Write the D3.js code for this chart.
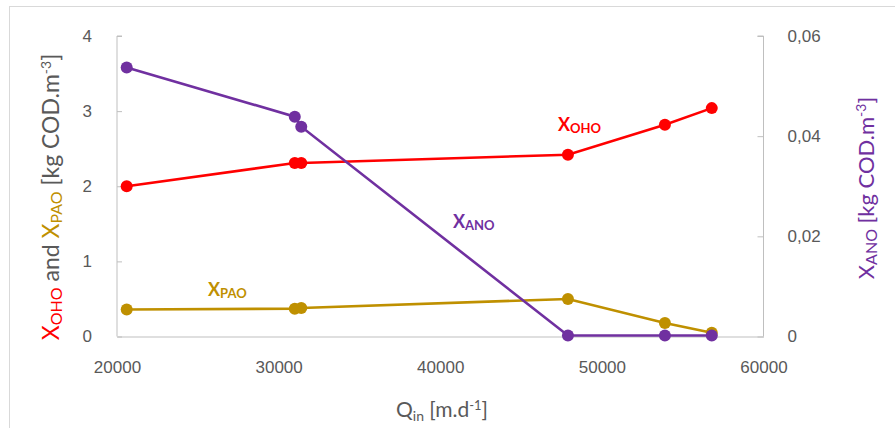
<!DOCTYPE html>
<html><head><meta charset="utf-8">
<script src="https://cdn.jsdelivr.net/npm/d3@7/dist/d3.min.js"></script>
<style>body{margin:0;background:#fff;}svg{display:block;font-family:Lato,"Open Sans",sans-serif;}</style>
</head><body><svg id="c" width="895" height="428"></svg>
<script>
const qIn = [20600, 31000, 31400, 47900, 53900, 56800];
const xOHO = [2.0, 2.31, 2.31, 2.42, 2.82, 3.04];
const xPAO = [0.36, 0.37, 0.38, 0.50, 0.18, 0.05];
const xANO = [0.0537, 0.0439, 0.0419, 0.0002, 0.0002, 0.0002];
const xTicks = [20000, 30000, 40000, 50000, 60000];
const yLeftTicks = [0, 1, 2, 3, 4];
const yRightTicks = [0, 0.02, 0.04, 0.06];
const colors = {oho: "#ff0000", pao: "#bf9000", ano: "#7030a0"};

const svg = d3.select("#c");
const L = 117, R = 763.5, T = 36, B = 336.5;
const x = d3.scaleLinear().domain([20000, 60000]).range([L, R]);
const yL = d3.scaleLinear().domain([0, 4]).range([B, T]);
const yR = d3.scaleLinear().domain([0, 0.06]).range([B, T]);

// outer border
svg.append("rect").attr("x", 9.5).attr("y", 6.5).attr("width", 900).attr("height", 440)
  .attr("fill", "none").attr("stroke", "#d9d9d9").attr("stroke-width", 1);

const grey = "#595959", axisCol = "#bfbfbf";
// left axis
const gl = svg.append("g").attr("transform", `translate(${L},0)`)
  .call(d3.axisRight(yL).tickValues(yLeftTicks).tickSize(5).tickFormat(d3.format("d")));
gl.select(".domain").attr("stroke", axisCol).attr("d", `M5,${T}H0V${B}`);
gl.selectAll(".tick line").attr("stroke", axisCol);
gl.selectAll(".tick text").attr("x", -25).attr("text-anchor", "end").attr("fill", grey).attr("font-size", 17);

// right axis
const gr = svg.append("g").attr("transform", `translate(${R},0)`)
  .call(d3.axisLeft(yR).tickValues(yRightTicks).tickSize(6).tickFormat(d => d === 0 ? "0" : d3.format(".2f")(d).replace(".", ",")));
gr.select(".domain").attr("stroke", axisCol).attr("d", `M-6,${T}H0V${B}`);
gr.selectAll(".tick line").attr("stroke", axisCol);
gr.selectAll(".tick text").attr("x", 24).attr("text-anchor", "start").attr("fill", grey).attr("font-size", 17);

// bottom axis
const gb = svg.append("g").attr("transform", `translate(0,${B})`)
  .call(d3.axisBottom(x).tickValues(xTicks).tickSize(0).tickFormat(d3.format("d")));
gb.select(".domain").attr("stroke", axisCol);
gb.selectAll(".tick text").attr("y", 24).attr("fill", grey).attr("font-size", 17);

// series
function series(vals, yScale, col) {
  const data = qIn.map((q, i) => [q, vals[i]]);
  svg.append("path").datum(data).attr("fill", "none").attr("stroke", col).attr("stroke-width", 2.6)
    .attr("d", d3.line().x(d => x(d[0])).y(d => yScale(d[1])));
  svg.append("g").selectAll("circle").data(data).join("circle")
    .attr("cx", d => x(d[0])).attr("cy", d => yScale(d[1])).attr("r", 6).attr("fill", col);
}
series(xPAO, yL, colors.pao);
series(xOHO, yL, colors.oho);
series(xANO, yR, colors.ano);

// inline labels
function sublabel(tx, ty, sub, col) {
  const t = svg.append("text").attr("x", tx).attr("y", ty).attr("fill", col).attr("font-weight", "bold").attr("font-size", 18);
  t.append("tspan").text("X");
  t.append("tspan").attr("font-size", 13).attr("dy", 2).text(sub);
}
sublabel(558, 131, "OHO", colors.oho);
sublabel(453, 228, "ANO", colors.ano);
sublabel(208, 296, "PAO", colors.pao);

// x axis title
const xt = svg.append("text").attr("x", 442).attr("y", 417).attr("text-anchor", "middle").attr("fill", grey).attr("font-size", 21);
xt.append("tspan").text("Q");
xt.append("tspan").attr("font-size", 14).attr("dy", 4).text("in");
xt.append("tspan").attr("dy", -4).text(" [m.d");
xt.append("tspan").attr("font-size", 13).attr("dy", -7).text("-1");
xt.append("tspan").attr("dy", 7).text("]");

// left y title
const lt = svg.append("text").attr("transform", "translate(59,197) rotate(-90)").attr("text-anchor", "middle").attr("font-size", 23).attr("fill", grey);
lt.append("tspan").attr("fill", colors.oho).text("X");
lt.append("tspan").attr("fill", colors.oho).attr("font-size", 16).attr("dy", 3).text("OHO");
lt.append("tspan").attr("dy", -3).text(" and ");
lt.append("tspan").attr("fill", colors.pao).text("X");
lt.append("tspan").attr("fill", colors.pao).attr("font-size", 16).attr("dy", 3).text("PAO");
lt.append("tspan").attr("dy", -3).text(" [kg COD.m");
lt.append("tspan").attr("font-size", 14).attr("dy", -8).text("-3");
lt.append("tspan").attr("dy", 8).text("]");

// right y title
const rt = svg.append("text").attr("transform", "translate(874,188) rotate(-90)").attr("text-anchor", "middle").attr("font-size", 22).attr("fill", colors.ano);
rt.append("tspan").text("X");
rt.append("tspan").attr("font-size", 16).attr("dy", 3).text("ANO");
rt.append("tspan").attr("dy", -3).text(" [kg COD.m");
rt.append("tspan").attr("font-size", 14).attr("dy", -8).text("-3");
rt.append("tspan").attr("dy", 8).text("]");
</script></body></html>
